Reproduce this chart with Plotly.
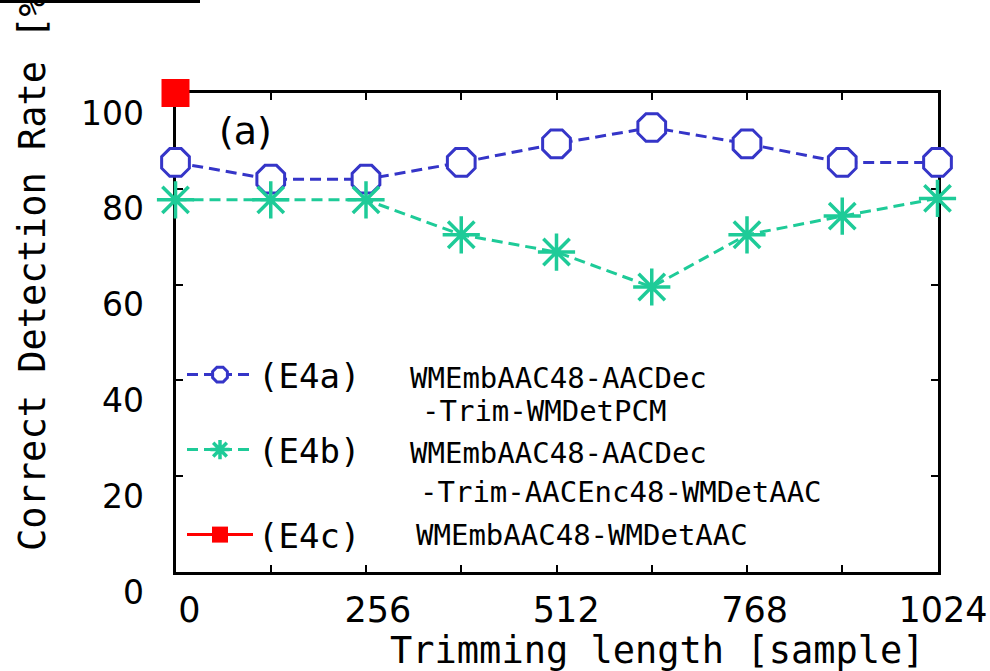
import plotly.graph_objects as go

# ---------------- data ----------------
trim_len = [0, 128, 256, 384, 512, 640, 768, 896, 1024]
e4a_rate = [85.5, 82.0, 82.0, 85.5, 89.4, 92.8, 89.4, 85.5, 85.5]
e4b_rate = [77.7, 77.7, 77.7, 70.4, 66.8, 59.5, 70.4, 74.3, 78.0]
e4c_len = [0]
e4c_rate = [100.0]

x_ticks = [0, 256, 512, 768, 1024]
y_ticks = [0, 20, 40, 60, 80, 100]

series_names = ["(E4a)", "(E4b)", "(E4c)"]
desc_lines = [
    ["WMEmbAAC48-AACDec", "-Trim-WMDetPCM"],
    ["WMEmbAAC48-AACDec", "-Trim-AACEnc48-WMDetAAC"],
    ["WMEmbAAC48-WMDetAAC"],
]

# ---------------- layout helpers (pixel -> paper) ----------------
W, H = 990, 671
PL, PR, PT, PB = 150, 950, 60, 626


def fx(px):
    return (px - PL) / (PR - PL)


def fy(py):
    return (PB - py) / (PB - PT)


BLUE = "#3535c8"
GREEN = "#1ecb98"
RED = "#ff0000"
MONO = "DejaVu Sans Mono"
SANS = "DejaVu Sans"

fig = go.Figure()

fig.add_trace(go.Scatter(
    x=trim_len, y=e4a_rate, mode="lines+markers", name=series_names[0],
    line=dict(color=BLUE, width=3, dash="11px,6px"),
    marker=dict(symbol="octagon", size=30, color="white",
                line=dict(color=BLUE, width=3)),
    cliponaxis=False, legend="legend"))
fig.add_trace(go.Scatter(
    x=trim_len, y=e4b_rate, mode="lines+markers", name=series_names[1],
    line=dict(color=GREEN, width=3, dash="11px,6px"),
    marker=dict(symbol="asterisk-open", size=31,
                line=dict(color=GREEN, width=3.5)),
    cliponaxis=False, legend="legend2"))
fig.add_trace(go.Scatter(
    x=e4c_len, y=e4c_rate, mode="lines+markers", name=series_names[2],
    line=dict(color=RED, width=3),
    marker=dict(symbol="square", size=28, color=RED),
    cliponaxis=False, legend="legend3"))

# invisible trace to create the label-only axes
fig.add_trace(go.Scatter(x=[None], y=[None], xaxis="x2", yaxis="y2",
                         showlegend=False, hoverinfo="skip"))

axis_common = dict(showgrid=False, zeroline=False, linecolor="black",
                   linewidth=3, mirror="ticks", ticks="inside", ticklen=7,
                   tickwidth=2, tickcolor="black", showticklabels=False,
                   layer="below traces")

fig.update_layout(
    width=W, height=H,
    margin=dict(l=PL, r=W - PR, t=PT, b=H - PB, autoexpand=False),
    paper_bgcolor="white", plot_bgcolor="rgba(0,0,0,0)",
    xaxis=dict(range=[0, 1024], domain=[fx(175.5), fx(937.5)],
               tickvals=list(range(0, 1025, 128)), **axis_common),
    yaxis=dict(range=[0, 100], domain=[fy(572), fy(93)],
               tickvals=y_ticks, **axis_common),
    xaxis2=dict(range=[0, 1024], domain=[fx(189.5), fx(943)], anchor="free",
                position=fy(586), showline=False, showgrid=False,
                zeroline=False, ticks="", tickvals=x_ticks,
                ticktext=[str(v) for v in x_ticks],
                tickfont=dict(family=SANS, size=35, color="black")),
    yaxis2=dict(range=[0, 100], domain=[fy(592), fy(113)], anchor="free",
                position=0, showline=False, showgrid=False, zeroline=False,
                ticks="", tickvals=y_ticks, ticklabelstandoff=6,
                ticktext=[str(v) for v in y_ticks],
                tickfont=dict(family=SANS, size=33, color="black")),
    showlegend=True,
)

leg_common = dict(xanchor="left", yanchor="middle", bgcolor="rgba(0,0,0,0)",
                  borderwidth=0, itemwidth=66,
                  font=dict(family=MONO, size=34, color="black"))
fig.update_layout(
    legend=dict(x=fx(182), y=fy(375), **leg_common),
    legend2=dict(x=fx(182), y=fy(450), **leg_common),
    legend3=dict(x=fx(182), y=fy(535), **leg_common),
)

annotations = []
# axis titles
annotations.append(dict(text="Correct Detection Rate [%]", x=fx(32), y=fy(262),
                        xref="paper", yref="paper", showarrow=False,
                        textangle=-90, xanchor="center", yanchor="middle",
                        font=dict(family=MONO, size=37, color="black")))
annotations.append(dict(text="Trimming length [sample]", x=fx(657), y=fy(650),
                        xref="paper", yref="paper", showarrow=False,
                        xanchor="center", yanchor="middle",
                        font=dict(family=MONO, size=37, color="black")))
annotations.append(dict(text="(a)", x=fx(245), y=fy(131),
                        xref="paper", yref="paper", showarrow=False,
                        xanchor="center", yanchor="middle",
                        font=dict(family=SANS, size=38, color="black")))
# legend descriptions
desc_pos = [[(408, 378), (420, 411)], [(408, 453), (418, 492)], [(414, 535)]]
for lines, poss in zip(desc_lines, desc_pos):
    for txt, (px, py) in zip(lines, poss):
        annotations.append(dict(text=txt, x=fx(px), y=fy(py), xref="paper",
                                yref="paper", showarrow=False,
                                xanchor="left", yanchor="middle",
                                font=dict(family=MONO, size=29, color="black")))
fig.update_layout(annotations=annotations)

# stray frame fragment at the top-left edge of the original image
fig.add_shape(type="line", xref="paper", yref="paper",
              x0=fx(0), x1=fx(200), y0=fy(1.5), y1=fy(1.5),
              line=dict(color="black", width=3))

fig.write_html("out.html",
               config={"displayModeBar": False},
               post_script="document.body.style.margin='0';"
                           "document.body.style.overflow='hidden';")
